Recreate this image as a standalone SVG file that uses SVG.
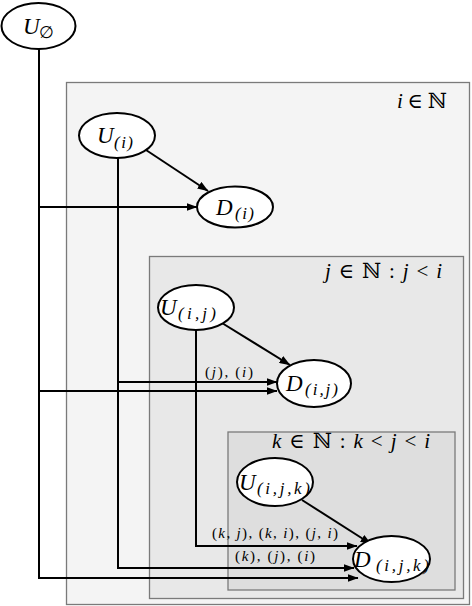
<svg xmlns="http://www.w3.org/2000/svg" width="472" height="606" viewBox="0 0 472 606">
<defs>
<marker id="arr" markerWidth="11" markerHeight="8" refX="10.5" refY="4" orient="auto" markerUnits="userSpaceOnUse">
<path d="M0,0 L11,4 L0,8 z" fill="#000"/>
</marker>
</defs>
<style>
.plate{stroke:#7a7a7a;stroke-width:1.3}
.node ellipse{fill:#fff;stroke:#000;stroke-width:2}
.t{font-family:"Liberation Serif","DejaVu Serif",serif;fill:#000}
.nl{font-size:23px;font-style:italic}
.sub{font-size:17px;font-style:italic}
.pl{font-size:21px}
.el{font-size:15px}
.it{font-style:italic}
.edge{fill:none;stroke:#000;stroke-width:2}
</style>
<rect width="472" height="606" fill="#fff"/>
<g id="plates">
<rect class="plate" x="66.5" y="82.5" width="403" height="522" fill="#f4f4f4"/>
<rect class="plate" x="149.5" y="256.5" width="314" height="342" fill="#e8e8e8"/>
<rect class="plate" x="228" y="432" width="227" height="158" fill="#dedede"/>
<text class="t pl" x="397" y="108" textLength="50" lengthAdjust="spacing"><tspan class="it">i</tspan> ∈ ℕ</text>
<text class="t pl" x="325" y="278" textLength="117" lengthAdjust="spacing"><tspan class="it">j</tspan> ∈ ℕ : <tspan class="it">j</tspan> &lt; <tspan class="it">i</tspan></text>
<text class="t pl" x="272" y="448" textLength="158" lengthAdjust="spacing"><tspan class="it">k</tspan> ∈ ℕ : <tspan class="it">k</tspan> &lt; <tspan class="it">j</tspan> &lt; <tspan class="it">i</tspan></text>
</g>
<g id="connectors">
<path class="edge" d="M39,49 V578 H358" marker-end="url(#arr)"/>
<path class="edge" d="M39,207 H197" marker-end="url(#arr)"/>
<path class="edge" d="M39,391 H277" marker-end="url(#arr)"/>
<path class="edge" d="M118,158 V568 H354" marker-end="url(#arr)"/>
<path class="edge" d="M118,382 H277" marker-end="url(#arr)"/>
<path class="edge" d="M196,330 V546 H357" marker-end="url(#arr)"/>
<path class="edge" d="M146,150 L208,191" marker-end="url(#arr)"/>
<path class="edge" d="M222,323 L290,365" marker-end="url(#arr)"/>
<path class="edge" d="M302,500 L371,544" marker-end="url(#arr)"/>
<text class="t el" x="205" y="377" textLength="48" lengthAdjust="spacing">(<tspan class="it">j</tspan>), (<tspan class="it">i</tspan>)</text>
<text class="t el" x="212" y="538" textLength="126" lengthAdjust="spacing">(<tspan class="it">k</tspan>, <tspan class="it">j</tspan>), (<tspan class="it">k</tspan>, <tspan class="it">i</tspan>), (<tspan class="it">j</tspan>, <tspan class="it">i</tspan>)</text>
<text class="t el" x="235" y="561" textLength="80" lengthAdjust="spacing">(<tspan class="it">k</tspan>), (<tspan class="it">j</tspan>), (<tspan class="it">i</tspan>)</text>
</g>
<g id="U_empty" class="node">
<ellipse cx="38.5" cy="26" rx="37" ry="23"/>
<text class="t nl" x="23" y="34">U</text>
<text class="t sub" x="39" y="38" style="font-style:normal">∅</text>
</g>
<g id="U_i" class="node">
<ellipse cx="117" cy="135.5" rx="38" ry="22.5"/>
<text class="t nl" x="97" y="143">U</text>
<text class="t sub" x="114" y="148" textLength="19" lengthAdjust="spacing">(i)</text>
</g>
<g id="D_i" class="node">
<ellipse cx="235" cy="207" rx="38" ry="20.5"/>
<text class="t nl" x="216" y="215">D</text>
<text class="t sub" x="235" y="219" textLength="19" lengthAdjust="spacing">(i)</text>
</g>
<g id="U_ij" class="node">
<ellipse cx="196" cy="307.5" rx="38" ry="22.5"/>
<text class="t nl" x="160" y="315">U</text>
<text class="t sub" x="178" y="319" textLength="38" lengthAdjust="spacing">(i,j)</text>
</g>
<g id="D_ij" class="node">
<ellipse cx="314" cy="383.5" rx="37" ry="23.5"/>
<text class="t nl" x="286" y="391">D</text>
<text class="t sub" x="305" y="395" textLength="33" lengthAdjust="spacing">(i,j)</text>
</g>
<g id="U_ijk" class="node">
<ellipse cx="275" cy="482" rx="38" ry="24"/>
<text class="t nl" x="239" y="490">U</text>
<text class="t sub" x="257" y="494" textLength="53" lengthAdjust="spacing">(i,j,k)</text>
</g>
<g id="D_ijk" class="node">
<ellipse cx="391.5" cy="559" rx="38.5" ry="23"/>
<text class="t nl" x="354" y="567">D</text>
<text class="t sub" x="376" y="571" textLength="53" lengthAdjust="spacing">(i,j,k)</text>
</g>
</svg>
